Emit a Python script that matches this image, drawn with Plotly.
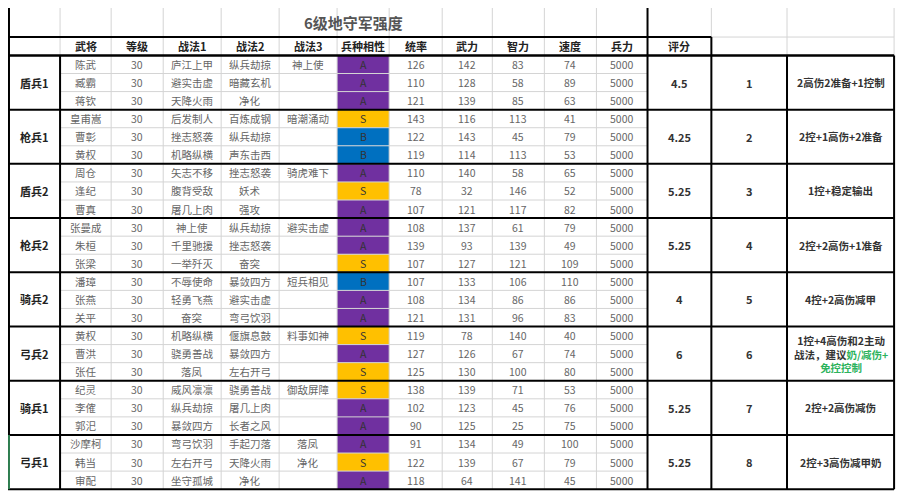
import plotly.graph_objects as go

title = '6级地守军强度'
headers = ['武将', '等级', '战法1', '战法2', '战法3', '兵种相性', '统率', '武力', '智力', '速度', '兵力', '评分']
groups = ['盾兵1', '枪兵1', '盾兵2', '枪兵2', '骑兵2', '弓兵2', '骑兵1', '弓兵1']
generals = ['陈武', '臧霸', '蒋钦', '皇甫嵩', '曹彰', '黄权', '周仓', '逢纪', '曹真', '张曼成', '朱桓', '张梁',
            '潘璋', '张燕', '关平', '黄权', '曹洪', '张任', '纪灵', '李傕', '郭汜', '沙摩柯', '韩当', '审配']
levels = [30] * 24
skill1 = ['庐江上甲', '避实击虚', '天降火雨', '后发制人', '挫志怒袭', '机略纵横', '矢志不移', '腹背受敌', '屠几上肉',
          '神上使', '千里驰援', '一举歼灭', '不辱使命', '轻勇飞燕', '奋突', '机略纵横', '骁勇善战', '落凤',
          '威风凛凛', '纵兵劫掠', '暴敛四方', '弯弓饮羽', '左右开弓', '坐守孤城']
skill2 = ['纵兵劫掠', '暗藏玄机', '净化', '百炼成钢', '纵兵劫掠', '声东击西', '挫志怒袭', '妖术', '强攻',
          '纵兵劫掠', '挫志怒袭', '奋突', '暴敛四方', '避实击虚', '弯弓饮羽', '偃旗息鼓', '暴敛四方', '左右开弓',
          '骁勇善战', '屠几上肉', '长者之风', '手起刀落', '天降火雨', '净化']
skill3 = ['神上使', '', '', '暗潮涌动', '', '', '骑虎难下', '', '', '避实击虚', '', '', '短兵相见', '', '',
          '料事如神', '', '', '御敌屏障', '', '', '落凤', '净化', '']
affinity = ['A', 'A', 'A', 'S', 'B', 'B', 'A', 'S', 'A', 'A', 'A', 'S', 'B', 'A', 'A', 'S', 'A', 'S',
            'S', 'A', 'A', 'A', 'S', 'A']
command = [126, 110, 121, 143, 122, 119, 110, 78, 107, 108, 139, 107, 107, 108, 121, 119, 127, 125, 138, 102, 90, 91, 122, 118]
force = [142, 128, 139, 116, 143, 114, 140, 32, 121, 137, 93, 127, 133, 134, 131, 78, 126, 130, 139, 123, 125, 134, 139, 64]
intel = [83, 58, 85, 113, 45, 113, 58, 146, 117, 61, 139, 121, 106, 86, 96, 140, 67, 100, 71, 45, 25, 49, 67, 141]
speed = [74, 89, 63, 41, 79, 53, 65, 52, 82, 79, 49, 109, 110, 86, 83, 40, 74, 80, 53, 76, 75, 100, 79, 45]
troops = [5000] * 24
scores = ['4.5', '4.25', '5.25', '5.25', '4', '6', '5.25', '5.25']
ranks = [1, 2, 3, 4, 5, 6, 7, 8]
notes = ['2高伤2准备+1控制', '2控+1高伤+2准备', '1控+稳定输出', '2控+2高伤+1准备', '4控+2高伤减甲',
         '1控+4高伤和2主动<br>战法，建议<span style="color:#2db35d">奶/减伤+</span><br><span style="color:#2db35d">免控控制</span>',
         '2控+2高伤减伤', '2控+3高伤减甲奶']

aff_colors = {'A': '#7030A0', 'S': '#FFC000', 'B': '#0070C0'}

# column edges (in picture units)
xe = [0, 53, 105, 158, 217, 276, 335, 388, 442, 493, 546, 599, 651, 716, 793, 902]
y_title, y_head, y0, rh = 0, 30, 49, 18.67

fig = go.Figure()
shapes, ann = [], []
FONT = 'Noto Sans CJK SC'


def line(x0, y0_, x1, y1, color='#d4d4d4', w=1):
    shapes.append(dict(type='line', x0=x0, y0=y0_, x1=x1, y1=y1, line=dict(color=color, width=w)))


def text(x, y, s, size=11, color='#555', bold=False):
    ann.append(dict(x=x, y=y, text=f'<b>{s}</b>' if bold else s, showarrow=False,
                    font=dict(family=FONT, size=size, color=color), xanchor='center', yanchor='middle'))


n = len(generals)
yb = y0 + n * rh

# affinity fills
for i, a in enumerate(affinity):
    shapes.append(dict(type='rect', x0=xe[6], x1=xe[7], y0=y0 + i * rh, y1=y0 + (i + 1) * rh,
                       fillcolor=aff_colors[a], line=dict(width=0), layer='below'))

# light grid
for x in xe[1:]:
    line(x, 0, x, yb)
for i in range(n):
    line(xe[1], y0 + i * rh, xe[12], y0 + i * rh)
line(0, y_head, xe[15], y_head)

# thick borders
line(0, y_head, xe[13], y_head, '#000', 2)
line(0, y0, xe[15], y0, '#000', 2)
for g in range(len(groups) + 1):
    line(0, y0 + g * 3 * rh, xe[15], y0 + g * 3 * rh, '#000', 2)
for x in [xe[1], xe[12], xe[13], xe[14], xe[15]]:
    line(x, y0, x, yb, '#000', 2)
line(xe[12], 0, xe[12], y0, '#000', 2)
line(xe[13], y_head, xe[13], y0, '#000', 2)
line(1, 0, 1, y0 + 21 * rh, '#000', 2)
line(1, y0 + 21 * rh, 1, yb, '#2e7d4f', 2)

text((xe[1] + xe[12]) / 2, (y_title + y_head) / 2, title, 15, '#555', True)
for j, h in enumerate(headers):
    text((xe[j + 1] + xe[j + 2]) / 2, (y_head + y0) / 2, h, 11, '#222', True)

cols = [generals, levels, skill1, skill2, skill3, affinity, command, force, intel, speed, troops]
for i in range(n):
    yc = y0 + (i + 0.5) * rh
    for j, c in enumerate(cols):
        col = '#333' if j == 5 else '#666'
        text((xe[j + 1] + xe[j + 2]) / 2, yc, str(c[i]), 10.5, col)

for g in range(len(groups)):
    yc = y0 + (g * 3 + 1.5) * rh
    text((xe[0] + xe[1]) / 2, yc, groups[g], 11, '#222', True)
    text((xe[12] + xe[13]) / 2, yc, scores[g], 11, '#333', True)
    text((xe[13] + xe[14]) / 2, yc, str(ranks[g]), 11, '#333', True)
    text((xe[14] + xe[15]) / 2, yc, notes[g], 10.5, '#333', True)

fig.update_layout(
    shapes=shapes, annotations=ann,
    width=891, height=484, margin=dict(l=0, r=0, t=0, b=0),
    paper_bgcolor='white', plot_bgcolor='white', showlegend=False,
    xaxis=dict(range=[0, 907], visible=False, fixedrange=True),
    yaxis=dict(range=[500, 0], visible=False, fixedrange=True),
)
fig.write_html('out.html')
